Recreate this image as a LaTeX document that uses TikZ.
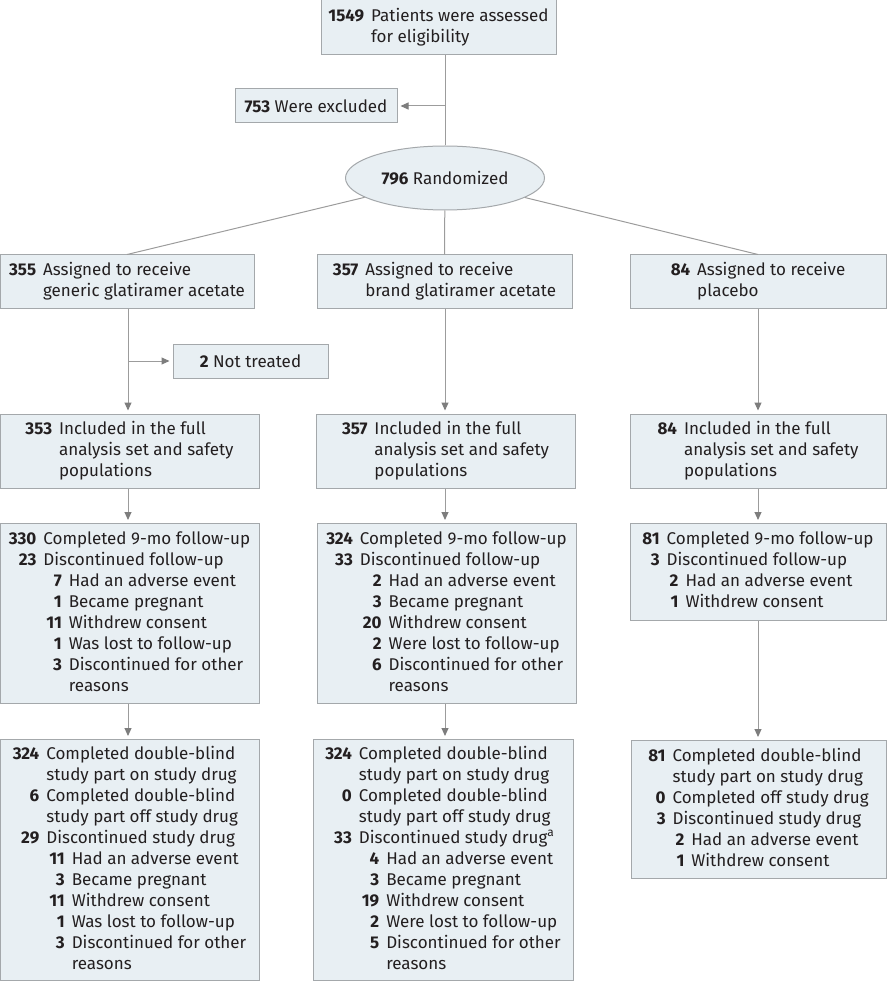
\documentclass[tikz,border=0pt]{standalone}
\usepackage{fontspec}
\setmainfont{Fira Sans}
\usepackage{array}
\usetikzlibrary{shapes.geometric,arrows.meta}

\definecolor{boxfill}{HTML}{E8EFF3}
\definecolor{boxline}{HTML}{A4A8AB}
\definecolor{wire}{HTML}{9C9C9C}
\definecolor{tipgrey}{HTML}{7D7D7D}
\definecolor{ink}{HTML}{231F20}

\newcommand{\fs}{\fontsize{17}{21}\selectfont}
\newenvironment{counts}{\begin{tabular}{@{}r@{\hspace{7pt}}>{\hspace{3pt}}r@{\hspace{7pt}}l@{}}}{\end{tabular}}
\newcommand{\rowone}[2]{\textbf{#1} & \multicolumn{2}{@{}l@{}}{#2}\\}
\newcommand{\contone}[1]{& \multicolumn{2}{@{}l@{}}{#1}\\}
\newcommand{\rowtwo}[2]{& \textbf{#1} & #2\\}
\newcommand{\conttwo}[1]{& & #1\\}

\begin{document}
\begin{tikzpicture}[x=1pt,y=-1pt,
    box/.style={draw=boxline,fill=boxfill,line width=1pt,inner sep=0pt,text=ink,font=\fs},
    wire/.style={draw=wire,line width=1pt},
    arr/.style={wire,-{Triangle[length=8pt,width=7pt,color=tipgrey]},shorten >=3pt}]
    \useasboundingbox (0,0) rectangle (886,981);

    \node[box,minimum width=235pt,minimum height=55pt](scr)at(438.5,27.5){\begin{counts}
        \rowone{1549}{Patients were assessed}
        \contone{for eligibility}
    \end{counts}};
    \node[box,minimum width=162pt,minimum height=34pt](excl)at(316,106){\textbf{753} Were excluded};
    \node[box,ellipse,minimum width=199pt,minimum height=64pt](rand)at(445,178){\textbf{796} Randomized};

    \node[box,minimum width=254pt,minimum height=53pt](asg1)at(127,281.5){\begin{counts}
        \rowone{355}{Assigned to receive}
        \contone{generic glatiramer acetate}
    \end{counts}};
    \node[box,minimum width=255pt,minimum height=53pt](asg2)at(444.5,281.5){\begin{counts}
        \rowone{357}{Assigned to receive}
        \contone{brand glatiramer acetate}
    \end{counts}};
    \node[box,minimum width=256pt,minimum height=53pt](asg3)at(758,281.5){\begin{counts}
        \rowone{84}{Assigned to receive}
        \contone{placebo}
    \end{counts}};
    \node[box,minimum width=155pt,minimum height=34pt](nottr)at(250.5,361){\textbf{2} Not treated};

    \node[box,minimum width=259pt,minimum height=74pt](inc1)at(129.5,451){\begin{counts}
        \rowone{353}{Included in the full}
        \contone{analysis set and safety}
        \contone{populations}
    \end{counts}};
    \node[box,minimum width=259pt,minimum height=74pt](inc2)at(445.5,451){\begin{counts}
        \rowone{357}{Included in the full}
        \contone{analysis set and safety}
        \contone{populations}
    \end{counts}};
    \node[box,minimum width=256pt,minimum height=74pt](inc3)at(758,451){\begin{counts}
        \rowone{84}{Included in the full}
        \contone{analysis set and safety}
        \contone{populations}
    \end{counts}};

    \node[box,anchor=north,minimum width=259pt,minimum height=180pt](fu1)at(129.5,523){\begin{counts}
        \rowone{330}{Completed 9-mo follow-up}
        \rowone{23}{Discontinued follow-up}
        \rowtwo{7}{Had an adverse event}
        \rowtwo{1}{Became pregnant}
        \rowtwo{11}{Withdrew consent}
        \rowtwo{1}{Was lost to follow-up}
        \rowtwo{3}{Discontinued for other}
        \conttwo{reasons}
    \end{counts}};
    \node[box,anchor=north,minimum width=259pt,minimum height=180pt](fu2)at(446.5,523){\begin{counts}
        \rowone{324}{Completed 9-mo follow-up}
        \rowone{33}{Discontinued follow-up}
        \rowtwo{2}{Had an adverse event}
        \rowtwo{3}{Became pregnant}
        \rowtwo{20}{Withdrew consent}
        \rowtwo{2}{Were lost to follow-up}
        \rowtwo{6}{Discontinued for other}
        \conttwo{reasons}
    \end{counts}};
    \node[box,anchor=north,minimum width=256pt,minimum height=97pt](fu3)at(758,523){\begin{counts}
        \rowone{81}{Completed 9-mo follow-up}
        \rowone{3}{Discontinued follow-up}
        \rowtwo{2}{Had an adverse event}
        \rowtwo{1}{Withdrew consent}
    \end{counts}};

    \node[box,anchor=north,minimum width=259pt,minimum height=241pt](dbl1)at(129.5,739){\begin{counts}
        \rowone{324}{Completed double-blind}
        \contone{study part on study drug}
        \rowone{6}{Completed double-blind}
        \contone{study part off study drug}
        \rowone{29}{Discontinued study drug}
        \rowtwo{11}{Had an adverse event}
        \rowtwo{3}{Became pregnant}
        \rowtwo{11}{Withdrew consent}
        \rowtwo{1}{Was lost to follow-up}
        \rowtwo{3}{Discontinued for other}
        \conttwo{reasons}
    \end{counts}};
    \node[box,anchor=north,minimum width=260pt,minimum height=241pt](dbl2)at(443,739){\begin{counts}
        \rowone{324}{Completed double-blind}
        \contone{study part on study drug}
        \rowone{0}{Completed double-blind}
        \contone{study part off study drug}
        \rowone{33}{Discontinued study drug\textsuperscript{a}}
        \rowtwo{4}{Had an adverse event}
        \rowtwo{3}{Became pregnant}
        \rowtwo{19}{Withdrew consent}
        \rowtwo{2}{Were lost to follow-up}
        \rowtwo{5}{Discontinued for other}
        \conttwo{reasons}
    \end{counts}};
    \node[box,anchor=north,minimum width=255pt,minimum height=138pt](dbl3)at(758.5,740){\begin{counts}
        \rowone{81}{Completed double-blind}
        \contone{study part on study drug}
        \rowone{0}{Completed off study drug}
        \rowone{3}{Discontinued study drug}
        \rowtwo{2}{Had an adverse event}
        \rowtwo{1}{Withdrew consent}
    \end{counts}};

    \coordinate(jexcl)at(rand.north|-excl.east);
    \coordinate(jnot)at(128,0|-nottr.west);

    \draw[wire](rand.north|-scr.south)--(rand.north);
    \draw[arr](jexcl)--(excl.east);
    \draw[wire](rand)--(asg1.north);
    \draw[wire](rand)--(asg2.north);
    \draw[wire](rand)--(asg3.north);

    \draw[arr](asg1.south-|jnot)--(inc1.north-|jnot);
    \draw[arr](jnot)--(nottr.west);
    \draw[arr](asg2.south-|rand.south)--(inc2.north-|rand.south);
    \draw[arr](asg3.south)--(inc3.north-|asg3.south);

    \draw[arr](inc1.south-|jnot)--(fu1.north-|jnot);
    \draw[arr](inc2.south-|rand.south)--(fu2.north-|rand.south);
    \draw[arr](inc3.south-|asg3.south)--(fu3.north-|asg3.south);

    \draw[arr](fu1.south-|jnot)--(dbl1.north-|jnot);
    \draw[arr](fu2.south-|rand.south)--(dbl2.north-|rand.south);
    \draw[arr](fu3.south-|asg3.south)--(dbl3.north-|asg3.south);
\end{tikzpicture}
\end{document}
